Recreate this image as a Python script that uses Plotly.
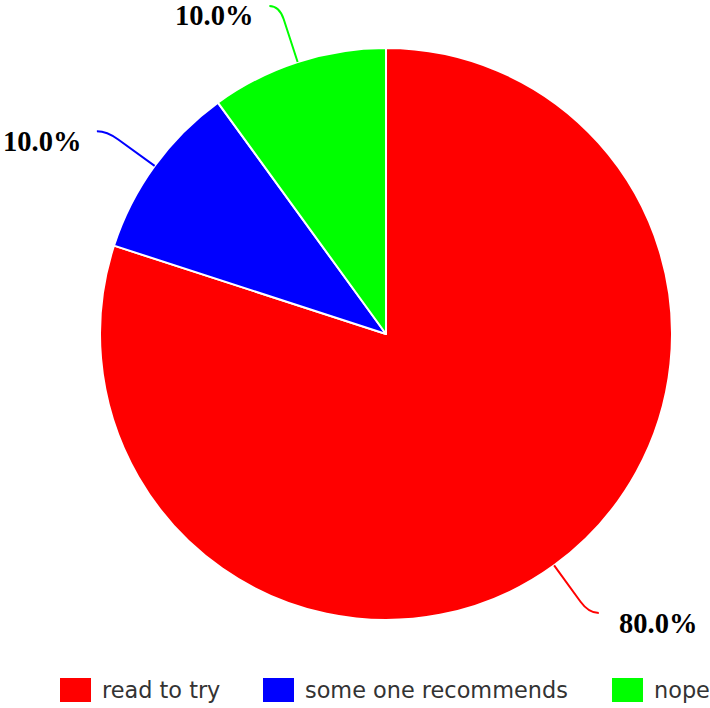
import math
import plotly.graph_objects as go

# Survey answers and their shares
labels = ["read to try", "some one recommends", "nope"]
values = [80, 10, 10]
colors = ["#ff0000", "#0000ff", "#00ff00"]

W, H = 710, 708
CX, CY, R = 386, 334, 286          # pie centre and radius in pixels
LEADER_LEN, HOOK = 59, 10           # radial part and horizontal hook of leader lines


def to_paper(x, y):
    return x / W, 1 - y / H


fig = go.Figure()
fig.add_trace(go.Pie(
    labels=labels,
    values=values,
    marker=dict(colors=colors, line=dict(color="white", width=2)),
    sort=False,
    direction="clockwise",
    rotation=0,
    textinfo="none",
    showlegend=False,
    domain=dict(x=[(CX - R) / W, (CX + R) / W], y=[1 - (CY + R) / H, 1 - (CY - R) / H]),
))

shapes = []
annotations = []
total = sum(values)
cum = 0
for lab, v, col in zip(labels, values, colors):
    theta = math.radians((cum + v / 2) / total * 360)
    cum += v
    dx, dy = math.sin(theta), -math.cos(theta)
    side = 1 if dx >= 0 else -1
    p0 = (CX + R * dx, CY + R * dy)
    bend = (p0[0] + (LEADER_LEN - 14) * dx, p0[1] + (LEADER_LEN - 14) * dy)
    corner = (p0[0] + LEADER_LEN * dx, p0[1] + LEADER_LEN * dy)
    p2 = (corner[0] + side * HOOK, corner[1])
    pts = [to_paper(*p) for p in (p0, bend, corner, p2)]
    path = "M {0[0]},{0[1]} L {1[0]},{1[1]} Q {2[0]},{2[1]} {3[0]},{3[1]}".format(*pts)
    shapes.append(dict(type="path", xref="paper", yref="paper", path=path,
                       line=dict(color=col, width=2)))
    gap = 18 if side > 0 else 14
    lx, ly = to_paper(p2[0] + side * gap, p2[1] + 10)
    annotations.append(dict(
        x=lx, y=ly, xref="paper", yref="paper",
        text=f"{v / total * 100:.1f}%", showarrow=False,
        xanchor="left" if side > 0 else "right", yanchor="middle",
        font=dict(family="Liberation Serif", size=28.5, color="black", weight="bold"),
    ))

# Legend row along the bottom
legend_x = [60, 263, 612]
legend_y = 690
for lab, col, x0 in zip(labels, colors, legend_x):
    ax0, ay0 = to_paper(x0, legend_y - 12)
    ax1, ay1 = to_paper(x0 + 31, legend_y + 12)
    shapes.append(dict(type="rect", xref="paper", yref="paper",
                       x0=ax0, x1=ax1, y0=ay1, y1=ay0,
                       fillcolor=col, line=dict(width=0)))
    tx, ty = to_paper(x0 + 40, legend_y)
    annotations.append(dict(
        x=tx, y=ty, xref="paper", yref="paper", text=lab, showarrow=False,
        xanchor="left", yanchor="middle",
        font=dict(family="DejaVu Sans", size=22.4, color="#333333"),
    ))

fig.update_layout(
    width=W, height=H,
    margin=dict(l=0, r=0, t=0, b=0),
    paper_bgcolor="white",
    plot_bgcolor="white",
    shapes=shapes,
    annotations=annotations,
)

fig.write_html("out.html")
